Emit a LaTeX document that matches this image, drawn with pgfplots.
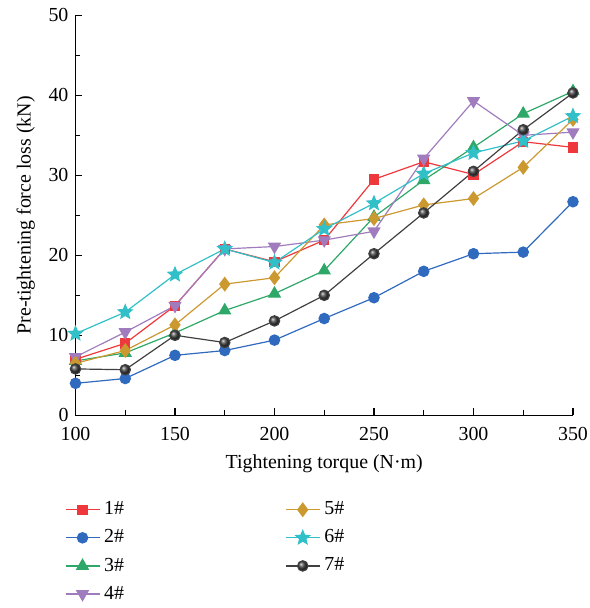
\documentclass[border=0pt]{standalone}
\usepackage{fontspec}
\setmainfont{Liberation Serif}
\usepackage{pgfplots}
\pgfplotsset{compat=1.18}
\usetikzlibrary{shadings}

\definecolor{cred}{RGB}{238,56,60}
\definecolor{cblue}{RGB}{48,106,190}
\definecolor{cgreen}{RGB}{46,168,104}
\definecolor{cpurple}{RGB}{160,124,190}
\definecolor{cgold}{RGB}{204,152,48}
\definecolor{ccyan}{RGB}{50,192,200}
\definecolor{cdark}{RGB}{64,64,64}

% filled five-pointed star
\pgfdeclareplotmark{fstar}{%
  \pgfpathmoveto{\pgfpointpolar{90}{\pgfplotmarksize}}%
  \pgfpathlineto{\pgfpointpolar{126}{0.45\pgfplotmarksize}}%
  \pgfpathlineto{\pgfpointpolar{162}{\pgfplotmarksize}}%
  \pgfpathlineto{\pgfpointpolar{198}{0.45\pgfplotmarksize}}%
  \pgfpathlineto{\pgfpointpolar{234}{\pgfplotmarksize}}%
  \pgfpathlineto{\pgfpointpolar{270}{0.45\pgfplotmarksize}}%
  \pgfpathlineto{\pgfpointpolar{306}{\pgfplotmarksize}}%
  \pgfpathlineto{\pgfpointpolar{342}{0.45\pgfplotmarksize}}%
  \pgfpathlineto{\pgfpointpolar{18}{\pgfplotmarksize}}%
  \pgfpathlineto{\pgfpointpolar{54}{0.45\pgfplotmarksize}}%
  \pgfpathclose
  \pgfusepathqfillstroke}

\pgfplotsset{
  s1/.style={cred, line width=0.6pt, mark=square*, mark size=2.3pt, mark options={solid, fill=cred, draw=cred}},
  s2/.style={cblue, line width=0.6pt, mark=*, mark size=2.6pt, mark options={solid, fill=cblue, draw=cblue}},
  s3/.style={cgreen, line width=0.6pt, mark=triangle*, mark size=3.3pt, mark options={solid, fill=cgreen, draw=cgreen}},
  s4/.style={cpurple, line width=0.6pt, mark=triangle*, mark size=3.3pt, mark options={solid, rotate=180, fill=cpurple, draw=cpurple}},
  s5/.style={cgold, line width=0.6pt, mark=diamond*, mark size=3.3pt, mark options={solid, fill=cgold, draw=cgold}},
  s6/.style={ccyan, line width=0.6pt, mark=fstar, mark size=3.6pt, mark options={solid, fill=ccyan, draw=ccyan}},
  s7/.style={cdark, line width=0.6pt, mark=ball, mark size=2.6pt, mark options={ball color=cdark}},
}

\begin{document}
\begin{tikzpicture}
\begin{axis}[
  scale only axis,
  width=250pt, height=201pt,
  xmin=100, xmax=350,
  ymin=0, ymax=50,
  axis lines*=left,
  tick align=inside,
  xtick={100,150,...,350},
  ytick={0,10,...,50},
  minor tick num=1,
  major tick length=3.5pt,
  minor tick length=2.5pt,
  every tick/.style={black, line width=0.6pt},
  axis line style={line width=0.6pt},
  /pgf/number format/assume math mode=true,
  xticklabel style={yshift=-2.5pt, inner xsep=1pt},
  xlabel={Tightening torque (N·m)},
  ylabel={Pre-tightening force loss (kN)},
  legend columns=2,
  legend cell align=left,
  legend style={draw=none, fill=none, inner ysep=1pt, at={(axis description cs:-0.034,-0.2)}, anchor=north west,
    row sep=2pt,
    /tikz/column 2/.style={column sep=79pt}},
]

% 1#
\addplot[s1, forget plot] coordinates {
  (100,7.0) (125,9.0) (150,13.7) (175,20.8) (200,19.2) (225,21.9)
  (250,29.5) (275,31.7) (300,30.1) (325,34.2) (350,33.5)
};
% 2#
\addplot[s2, forget plot] coordinates {
  (100,4.0) (125,4.6) (150,7.5) (175,8.1) (200,9.4) (225,12.1)
  (250,14.7) (275,18.0) (300,20.2) (325,20.4) (350,26.7)
};
% 3#
\addplot[s3, forget plot] coordinates {
  (100,6.8) (125,7.8) (150,10.3) (175,13.1) (200,15.2) (225,18.1)
  (250,24.8) (275,29.4) (300,33.5) (325,37.7) (350,40.5)
};
% 4#
\addplot[s4, forget plot] coordinates {
  (100,7.3) (125,10.4) (150,13.7) (175,20.8) (200,21.1) (225,21.9)
  (250,23.0) (275,32.1) (300,39.3) (325,35.0) (350,35.4)
};
% 5#
\addplot[s5, forget plot] coordinates {
  (100,6.5) (125,8.1) (150,11.3) (175,16.4) (200,17.2) (225,23.8)
  (250,24.6) (275,26.3) (300,27.1) (325,31.0) (350,37.0)
};
% 6#
\addplot[s6, forget plot] coordinates {
  (100,10.2) (125,12.9) (150,17.6) (175,20.8) (200,19.1) (225,23.3)
  (250,26.5) (275,30.2) (300,32.8) (325,34.3) (350,37.4)
};
% 7#
\addplot[s7, forget plot] coordinates {
  (100,5.8) (125,5.7) (150,10.0) (175,9.1) (200,11.8) (225,15.0)
  (250,20.2) (275,25.3) (300,30.5) (325,35.7) (350,40.3)
};

% legend in column order: 1-4 left, 5-7 right
\addlegendimage{s1}\addlegendentry{1\#}
\addlegendimage{s5}\addlegendentry{5\#}
\addlegendimage{s2}\addlegendentry{2\#}
\addlegendimage{s6}\addlegendentry{6\#}
\addlegendimage{s3}\addlegendentry{3\#}
\addlegendimage{s7}\addlegendentry{7\#}
\addlegendimage{s4}\addlegendentry{4\#}

\end{axis}
% a little blank room on the left and top, as in the reference
\path (current bounding box.west) ++(-5pt,0);
\path (current bounding box.north) ++(0,1pt);
\end{tikzpicture}
\end{document}
